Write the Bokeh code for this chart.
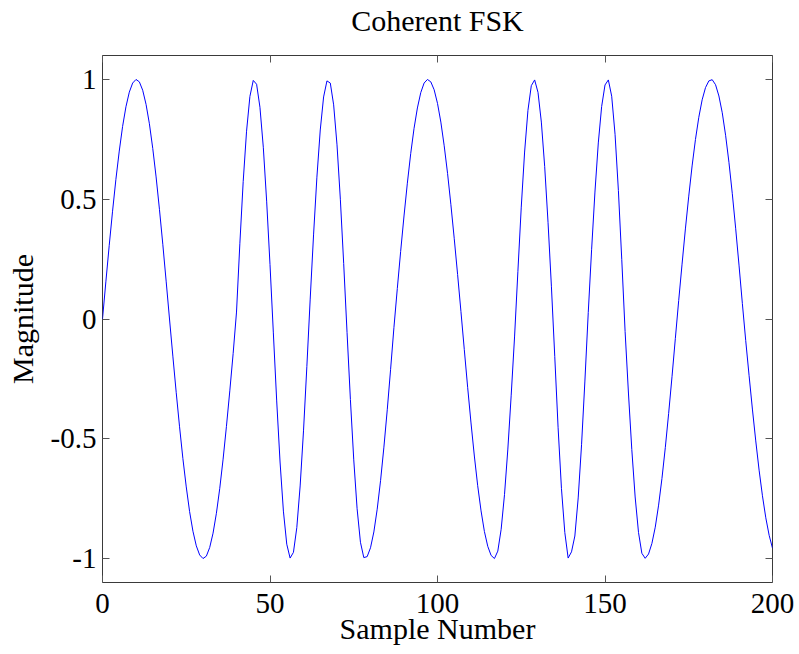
from bokeh.plotting import figure
from bokeh.models import Range1d, FixedTicker, LinearAxis, ColumnDataSource
from bokeh.embed import file_html
from bokeh.resources import INLINE

# ---- data ----
sample_number = list(range(0, 201))
magnitude = [
    0.0, 0.155, 0.306, 0.450, 0.583, 0.701, 0.804, 0.886, 0.947, 0.985, 1.000,
    0.990, 0.955, 0.896, 0.815, 0.712, 0.593, 0.458, 0.312, 0.158, 0.000,
    -0.155, -0.306, -0.450, -0.583, -0.701, -0.804, -0.886, -0.947, -0.985, -1.000,
    -0.990, -0.954, -0.894, -0.811, -0.707, -0.585, -0.448, -0.300, -0.144,
    0.029, 0.314, 0.574, 0.784, 0.929, 0.996,
    0.980, 0.884, 0.717, 0.492, 0.227,
    -0.058, -0.342, -0.597, -0.802, -0.940, -0.998,
    -0.974, -0.871, -0.697, -0.467, -0.199,
    0.083, 0.351, 0.592, 0.789, 0.927, 0.994,
    0.985, 0.894, 0.727, 0.500, 0.231,
    -0.057, -0.336, -0.588, -0.792, -0.932, -0.996,
    -0.992, -0.955, -0.889, -0.794, -0.675, -0.535, -0.379, -0.210, -0.035,
    0.127, 0.282, 0.430, 0.567, 0.690, 0.796, 0.881, 0.945, 0.985, 1.000,
    0.990, 0.957, 0.900, 0.822, 0.723, 0.608, 0.477, 0.335, 0.186, 0.031,
    -0.128, -0.285, -0.434, -0.572, -0.696, -0.801, -0.887, -0.949, -0.987, -1.000,
    -0.969, -0.878, -0.733, -0.543, -0.318, -0.075,
    0.199, 0.467, 0.697, 0.871, 0.974,
    0.998, 0.946, 0.822, 0.636, 0.402, 0.137,
    -0.156, -0.454, -0.707, -0.891, -0.998,
    -0.972, -0.906, -0.747, -0.525, -0.259,
    0.027, 0.289, 0.530, 0.735, 0.887, 0.977,
    0.998, 0.930, 0.771, 0.536, 0.249,
    -0.052, -0.309, -0.545, -0.743, -0.891, -0.978,
    -0.999, -0.981, -0.937, -0.869, -0.777, -0.666, -0.537, -0.394, -0.241, -0.081,
    0.077, 0.229, 0.376, 0.513, 0.639, 0.749, 0.842, 0.915, 0.966, 0.994,
    0.999, 0.978, 0.931, 0.861, 0.767, 0.654, 0.523, 0.379, 0.225, 0.065,
    -0.089, -0.235, -0.376, -0.509, -0.631, -0.738, -0.830, -0.903, -0.957,
]
x_ticks = [0, 50, 100, 150, 200]
y_ticks = [-1, -0.5, 0, 0.5, 1]
y_tick_labels = ["-1", "-0.5", "0", "0.5", "1"]
title_text = "Coherent FSK"

FONT = "Liberation Serif"
BOX = "#3a3a3a"
TICK = "#555555"

p = figure(
    width=799, height=654,
    output_backend="svg", toolbar_location=None,
    x_range=Range1d(0, 200), y_range=Range1d(-1.1, 1.1),
    min_border_left=102, min_border_right=27,
    min_border_top=55, min_border_bottom=72,
)
p.background_fill_color = "white"
p.border_fill_color = "white"
p.outline_line_color = BOX
p.outline_line_width = 1
p.grid.visible = False

src = ColumnDataSource(dict(x=sample_number, y=magnitude))
p.line("x", "y", source=src, line_color="#0000ff", line_width=1)

def style(ax, ticks, show_labels):
    ax.ticker = FixedTicker(ticks=ticks)
    ax.major_tick_in = 7
    ax.major_tick_out = 0
    ax.minor_tick_line_color = None
    ax.major_tick_line_color = TICK
    ax.axis_line_color = None
    ax.axis_label_text_font = FONT
    ax.axis_label_text_font_size = "30px"
    ax.axis_label_text_font_style = "normal"
    ax.axis_label_text_color = "black"
    if show_labels:
        ax.major_label_text_font = FONT
        ax.major_label_text_font_size = "29px"
        ax.major_label_text_color = "black"
    else:
        ax.major_label_text_font_size = "1px"
        ax.major_label_text_color = None
        ax.major_label_standoff = 0

xa = p.xaxis[0]
style(xa, x_ticks, True)
xa.axis_label = "Sample Number"
xa.major_label_standoff = 11
xa.axis_label_standoff = -4

ya = p.yaxis[0]
style(ya, y_ticks, True)
ya.axis_label = "Magnitude"
ya.major_label_standoff = 6
ya.axis_label_standoff = 9
ya.major_label_overrides = {t: s for t, s in zip(y_ticks, y_tick_labels)}

# top axis: ticks inside the box, and it carries the chart title
top = LinearAxis()
style(top, x_ticks, False)
top.axis_label = title_text
top.axis_label_standoff = 19
p.add_layout(top, "above")

right = LinearAxis()
style(right, y_ticks, False)
p.add_layout(right, "right")

open("out.html", "w").write(file_html(p, INLINE))
